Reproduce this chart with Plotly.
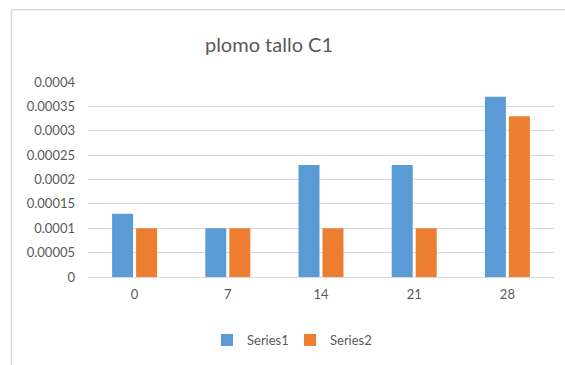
import plotly.graph_objects as go

categories = ["0", "7", "14", "21", "28"]
series1 = [0.00013, 0.0001, 0.00023, 0.00023, 0.00037]
series2 = [0.0001, 0.0001, 0.0001, 0.0001, 0.00033]
tick_vals = [0, 0.00005, 0.0001, 0.00015, 0.0002, 0.00025, 0.0003, 0.00035, 0.0004]
tick_text = ["0", "0.00005", "0.0001", "0.00015", "0.0002", "0.00025", "0.0003", "0.00035", "0.0004"]

W, H = 565, 365
ML, MR, MT, MB = 88, 11, 82, 87
pw, ph = W - ML - MR, H - MT - MB

fig = go.Figure()
fig.add_trace(go.Bar(x=categories, y=series1, name="Series1", marker_color="#5B9BD5", marker_line_width=0))
fig.add_trace(go.Bar(x=categories, y=series2, name="Series2", marker_color="#ED7D31", marker_line_width=0))

font_family = "Lato, 'Open Sans', sans-serif"


def px_to_paper_x(px):
    return (px - ML) / pw


def px_to_paper_y(py):
    return (H - MB - py) / ph


# outer frame of the chart area (left and top edges visible)
fig.add_shape(type="line", xref="paper", yref="paper",
              x0=px_to_paper_x(11.5), x1=px_to_paper_x(11.5),
              y0=px_to_paper_y(9.5), y1=px_to_paper_y(370),
              line=dict(color="#d9d9d9", width=1.5))
fig.add_shape(type="line", xref="paper", yref="paper",
              x0=px_to_paper_x(11.5), x1=px_to_paper_x(570),
              y0=px_to_paper_y(9.5), y1=px_to_paper_y(9.5),
              line=dict(color="#d9d9d9", width=1.5))

fig.update_layout(
    width=W, height=H,
    margin=dict(l=ML, r=MR, t=MT, b=MB),
    paper_bgcolor="white", plot_bgcolor="white",
    barmode="group", bargap=0.485, bargroupgap=0.125,
    title=dict(text="plomo tallo C1", xref="paper", x=px_to_paper_x(269), xanchor="center",
               y=1 - 45 / H, yanchor="middle",
               font=dict(family=font_family, size=20, color="#595959")),
    font=dict(family=font_family, size=13, color="#595959"),
    showlegend=True,
    legend=dict(orientation="h", xref="paper", x=px_to_paper_x(207), xanchor="left",
                y=px_to_paper_y(340), yanchor="middle",
                font=dict(size=13, color="#595959"), itemwidth=30,
                entrywidth=38, traceorder="normal"),
    xaxis=dict(type="category", showgrid=False, showline=False, ticks="",
               ticklabelstandoff=8,
               tickfont=dict(size=13, color="#595959")),
    yaxis=dict(range=[0, 0.0004], tickvals=tick_vals, ticktext=tick_text,
               showgrid=True, gridcolor="#d9d9d9", gridwidth=1, zeroline=True,
               zerolinecolor="#d9d9d9", zerolinewidth=1, showline=False, ticks="",
               ticklabelstandoff=12,
               tickfont=dict(size=13, color="#595959")),
)

fig.write_html("out.html")
